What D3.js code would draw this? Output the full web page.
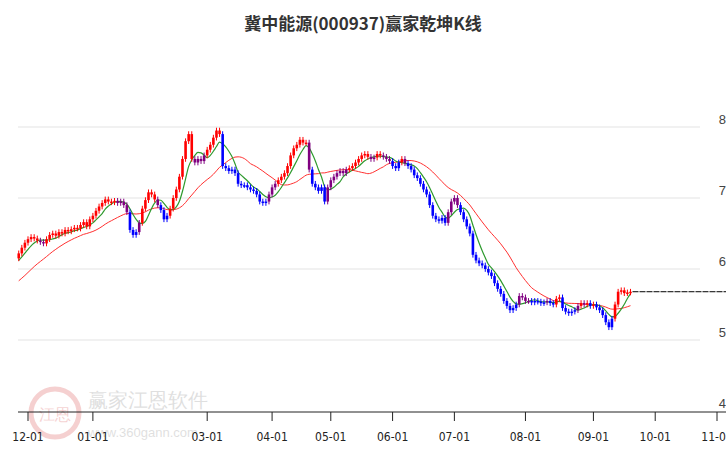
<!DOCTYPE html>
<html><head><meta charset="utf-8">
<script src="https://cdn.jsdelivr.net/npm/d3@7"></script>
<style>body{margin:0;background:#fff}</style>
</head><body><svg></svg>
<script>
const width = 726, height = 450;

// closes, one per trading day
const closes = [
 6.22,6.3,6.37,6.42,6.45,6.43,6.4,6.38,6.36,6.42,
 6.48,6.5,6.47,6.52,6.5,6.55,6.53,6.56,6.58,6.57,
 6.62,6.66,6.6,6.7,6.75,6.82,6.88,6.93,6.98,6.95,
 6.94,6.96,6.93,6.95,6.9,6.8,6.55,6.48,6.52,6.65,
 6.85,6.97,7.08,7.05,6.98,6.9,6.83,6.7,6.75,6.85,
 7.0,7.12,7.3,7.55,7.8,7.9,7.55,7.5,7.55,7.52,
 7.6,7.68,7.75,7.85,7.95,7.9,7.45,7.42,7.38,7.4,
 7.35,7.2,7.18,7.18,7.15,7.12,7.1,7.05,6.95,6.93,
 6.95,7.05,7.15,7.2,7.25,7.3,7.35,7.45,7.6,7.7,
 7.75,7.82,7.78,7.78,7.4,7.2,7.15,7.1,7.15,6.95,
 7.15,7.25,7.3,7.35,7.38,7.35,7.4,7.42,7.45,7.5,
 7.55,7.6,7.62,7.58,7.55,7.57,7.62,7.6,7.58,7.55,
 7.52,7.45,7.42,7.5,7.55,7.49,7.45,7.4,7.32,7.28,
 7.2,7.12,7.05,6.9,6.75,6.7,6.68,6.72,6.65,6.8,
 6.95,7.0,6.9,6.8,6.7,6.6,6.5,6.2,6.12,6.08,
 6.05,6.0,5.95,5.9,5.8,5.72,5.65,5.55,5.48,5.42,
 5.45,5.5,5.62,5.6,5.55,5.55,5.53,5.55,5.54,5.52,
 5.53,5.55,5.52,5.5,5.58,5.6,5.45,5.4,5.38,5.4,
 5.42,5.48,5.52,5.5,5.52,5.48,5.5,5.46,5.42,5.35,
 5.25,5.18,5.3,5.5,5.68,5.7,5.66,5.67,5.68
];
// closes before the visible window (only used to seed the averages)
const priorCloses = [5.55,5.6,5.58,5.62,5.6,5.65,5.7,5.68,5.72,5.75,5.8,5.85,5.9,5.95,6.0,6.05,6.1,6.15,6.2];

const tickIdx = [3, 24, 61, 82, 101, 121, 141, 164, 186, 206, 226];
const tickLabels = ["12-01","01-01","03-01","04-01","05-01","06-01","07-01","08-01","09-01","10-01","11-01"];
const yTicks = [4, 5, 6, 7, 8];

const svg = d3.select("svg").attr("width", width).attr("height", height)
    .style("font-family", "'Liberation Sans', Arial, sans-serif");

const x = d3.scaleLinear().domain([3, 226]).range([28, 717]);
const y = d3.scaleLinear().domain([4, 8]).range([411, 127]);

const all = priorCloses.concat(closes);
const off = priorCloses.length;
function ma(n) {
    return closes.map((c, i) => {
        const s = all.slice(Math.max(0, i + off - n + 1), i + off + 1);
        return d3.mean(s);
    });
}
const maShort = ma(6), maLong = ma(20);

const candles = closes.map((c, i) => {
    const o = i === 0 ? 6.15 : closes[i - 1];
    const hi = Math.max(o, c) + 0.04, lo = Math.min(o, c) - 0.04;
    let col = "#800080";
    if (c >= maShort[i] && c >= maLong[i]) col = "#ff0000";
    else if (c < maShort[i] && c < maLong[i]) col = "#0000ff";
    return { i, o, c, hi, lo, col };
});

// watermark
const wm = svg.append("g").attr("opacity", 0.18);
wm.append("circle").attr("cx", 55).attr("cy", 413).attr("r", 24).attr("fill", "none").attr("stroke", "#c00").attr("stroke-width", 5);
wm.append("text").attr("x", 55).attr("y", 420).attr("text-anchor", "middle").attr("font-size", 16).attr("fill", "#c00").text("江恩");
wm.append("text").attr("x", 88).attr("y", 407).attr("font-size", 20).attr("fill", "#555").text("赢家江恩软件");
wm.append("text").attr("x", 88).attr("y", 437).attr("font-size", 13).attr("fill", "#555").text("www.360gann.com");

// grid
svg.append("g").selectAll("line").data(yTicks.slice(1)).join("line")
    .attr("x1", 18).attr("x2", 700).attr("y1", d => y(d)).attr("y2", d => y(d))
    .attr("stroke", "#e3e3e3");

svg.append("g").selectAll("text").data(yTicks).join("text")
    .attr("x", 726).attr("y", d => y(d) - 3).attr("text-anchor", "end")
    .attr("font-size", 13).attr("fill", "#444").text(d => d);

// axis
svg.append("line").attr("x1", 18).attr("x2", 726).attr("y1", 412).attr("y2", 412).attr("stroke", "#222");
svg.append("g").selectAll("line").data(tickIdx).join("line")
    .attr("x1", d => x(d)).attr("x2", d => x(d)).attr("y1", 412).attr("y2", 421).attr("stroke", "#222");
svg.append("g").selectAll("text").data(tickIdx).join("text")
    .attr("x", d => x(d)).attr("y", 441).attr("text-anchor", "middle")
    .attr("font-size", 12).attr("fill", "#222")
    .style("font-family", "'Liberation Sans Narrow', 'DejaVu Sans Condensed', sans-serif")
    .text((d, k) => tickLabels[k]);

// moving averages
const line = arr => d3.line().x((d, i) => x(i)).y(d => y(d)).curve(d3.curveMonotoneX)(arr);
svg.append("path").attr("d", line(maLong)).attr("fill", "none").attr("stroke", "#ff3030").attr("stroke-width", 1);
svg.append("path").attr("d", line(maShort)).attr("fill", "none").attr("stroke", "#2e9a2e").attr("stroke-width", 1.2);

// candles
const g = svg.append("g").selectAll("g").data(candles).join("g");
g.append("line").attr("x1", d => x(d.i)).attr("x2", d => x(d.i))
    .attr("y1", d => y(d.hi)).attr("y2", d => y(d.lo)).attr("stroke", d => d.col);
g.append("rect").attr("x", d => x(d.i) - 1.3).attr("width", 2.6)
    .attr("y", d => y(Math.max(d.o, d.c)))
    .attr("height", d => Math.max(1.5, Math.abs(y(d.o) - y(d.c))))
    .attr("fill", d => d.col);

// last price line
const last = closes[closes.length - 1];
svg.append("line").attr("x1", x(closes.length - 1) + 2).attr("x2", 726)
    .attr("y1", y(last)).attr("y2", y(last)).attr("stroke", "#000").attr("stroke-dasharray", "6,1");

svg.append("text").attr("x", 363).attr("y", 30).attr("text-anchor", "middle")
    .attr("font-size", 17).attr("font-weight", "bold").attr("fill", "#333")
    .style("font-family", "'Noto Sans CJK SC', sans-serif")
    .text("冀中能源(000937)赢家乾坤K线");
</script></body></html>
